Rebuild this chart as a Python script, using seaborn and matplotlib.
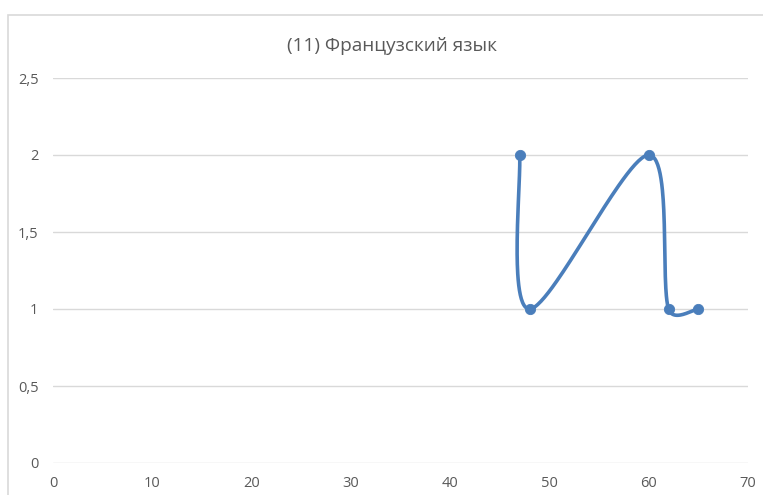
import numpy as np
import seaborn as sns
import matplotlib.pyplot as plt
from matplotlib.patches import Rectangle

# data
x_vals = [47, 48, 60, 62, 65]
y_vals = [2, 1, 2, 1, 1]
title = "(11) Французский язык"
x_ticks = [0, 10, 20, 30, 40, 50, 60, 70]
y_ticks = [0, 0.5, 1, 1.5, 2, 2.5]
y_tick_labels = ["0", "0,5", "1", "1,5", "2", "2,5"]

blue = "#4A7EBB"
grey_text = "#595959"
grid_col = "#D9D9D9"

sns.set_style("white")
plt.rcParams['font.family'] = ['Open Sans', 'DejaVu Sans']

W, H = 763, 495
fig = plt.figure(figsize=(W / 100, H / 100), dpi=100)
ax = fig.add_axes([53 / W, 1 - 463 / H, 695 / W, 385 / H])
ax.set_xlim(0, 70)
ax.set_ylim(0, 2.5)


def smooth_curve(ax, xs, ys, n=60):
    # Excel-like smoothing: Catmull-Rom -> cubic Bezier, computed in screen space,
    # control handles limited to half the segment length
    pts = ax.transData.transform(np.column_stack([xs, ys]))
    p = np.vstack([pts[0], pts, pts[-1]])
    out = []
    t = np.linspace(0, 1, n)[:, None]
    for i in range(1, len(p) - 2):
        p0, p1, p2, p3 = p[i - 1], p[i], p[i + 1], p[i + 2]
        seg_len = np.linalg.norm(p2 - p1)
        d1 = (p2 - p0) / 6
        d2 = (p3 - p1) / 6
        for d in (d1, d2):
            nd = np.linalg.norm(d)
            if nd > seg_len / 2:
                d *= (seg_len / 2) / nd
        b1 = p1 + d1
        b2 = p2 - d2
        seg = ((1 - t) ** 3) * p1 + 3 * ((1 - t) ** 2) * t * b1 + 3 * (1 - t) * t ** 2 * b2 + t ** 3 * p2
        out.append(seg)
    out = np.vstack(out)
    return ax.transData.inverted().transform(out)


curve = smooth_curve(ax, x_vals, y_vals)

# grid lines
for yv in y_ticks:
    ax.axhline(yv, color=grid_col, lw=1, zorder=0)

sns.lineplot(x=curve[:, 0], y=curve[:, 1], sort=False, estimator=None,
             color=blue, lw=2.6, ax=ax, zorder=3)
sns.scatterplot(x=x_vals, y=y_vals, color=blue, s=55, edgecolor=blue,
                ax=ax, zorder=4, clip_on=False)

for s in ax.spines.values():
    s.set_visible(False)

ax.set_xticks(x_ticks)
ax.set_xticklabels([str(v) for v in x_ticks])
ax.set_yticks(y_ticks)
ax.set_yticklabels(y_tick_labels)
ax.tick_params(axis='both', length=0, colors=grey_text, labelsize=10.5)
ax.tick_params(axis='x', pad=9.5)
ax.tick_params(axis='y', pad=10.5)
ax.set_xlabel("")
ax.set_ylabel("")

fig.text(392 / W, 1 - 46 / H, title, ha='center', va='center',
         fontsize=13.7, color=grey_text)

# chart area border
fig.patches.append(Rectangle((7.5 / W, -0.05), 1.0, 1 - 14.5 / H + 0.05,
                             transform=fig.transFigure, fill=False,
                             edgecolor=grid_col, lw=1.2))

fig.savefig("out.png", dpi=100)
